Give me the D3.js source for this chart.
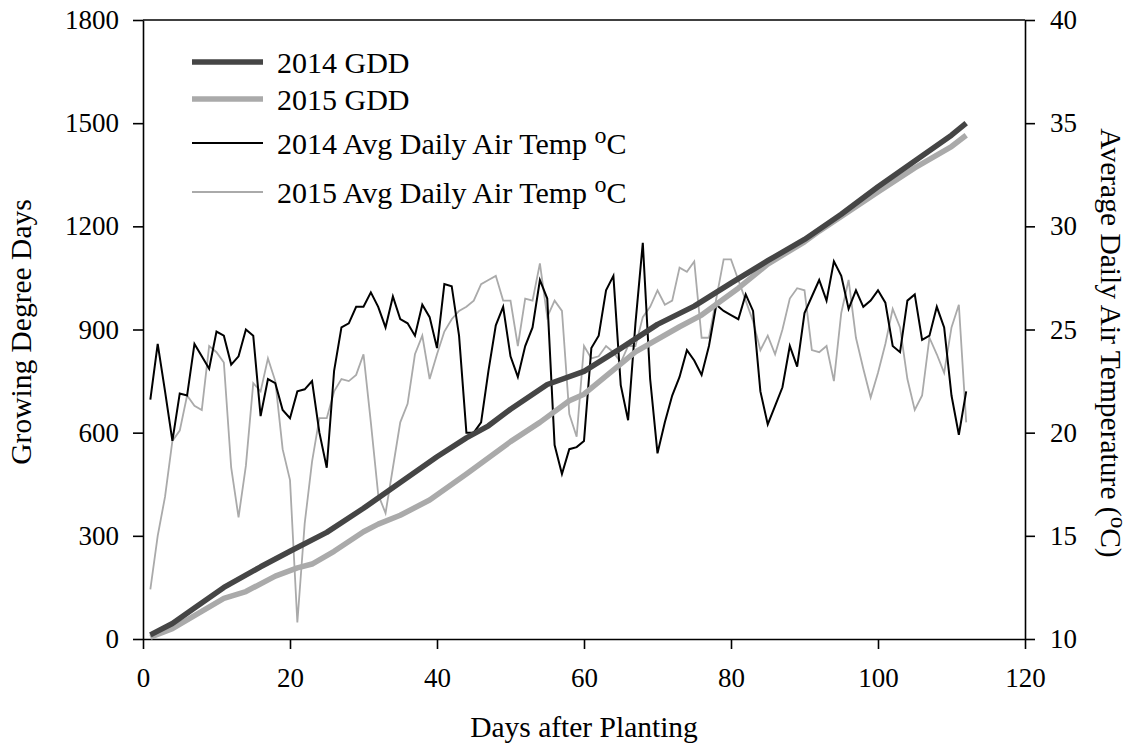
<!DOCTYPE html>
<html>
<head>
<meta charset="utf-8">
<script src="https://cdn.jsdelivr.net/npm/d3@7"></script>
<style>
  body { margin: 0; background: #fff; }
  svg text { font-family: "Liberation Serif", "Times New Roman", serif; fill: #000; }
</style>
</head>
<body>
<div id="vis"></div>
<script>
// days after planting, 1..112
var days = d3.range(1, 113);

// average daily air temperature (deg C)
var temp2014 = [
  21.6, 24.3, 22.0, 19.6, 21.9, 21.8, 24.3, 23.7, 23.1, 24.9,
  24.7, 23.3, 23.7, 25.0, 24.7, 20.8, 22.6, 22.4, 21.1, 20.7,
  22.0, 22.1, 22.5, 20.0, 18.3, 23.0, 25.1, 25.3, 26.1, 26.1,
  26.8, 26.1, 25.1, 26.6, 25.5, 25.3, 24.7, 26.2, 25.6, 24.1,
  27.2, 27.1, 24.7, 20.0, 20.0, 20.5, 23.0, 25.2, 26.1, 23.7,
  22.7, 24.2, 25.1, 27.4, 26.5, 19.4, 18.0, 19.2, 19.3, 19.6,
  24.1, 24.7, 26.9, 27.6, 22.3, 20.6, 25.3, 29.2, 22.6, 19.0,
  20.5, 21.8, 22.7, 24.0, 23.5, 22.8, 24.2, 26.2, 25.9, 25.7,
  25.5, 26.7, 25.9, 22.0, 20.4, 21.3, 22.2, 24.2, 23.2, 25.8,
  26.6, 27.4, 26.4, 28.3, 27.6, 26.0, 26.9, 26.1, 26.4, 26.9,
  26.3, 24.2, 23.9, 26.4, 26.7, 24.5, 24.7, 26.1, 25.1, 21.8,
  19.9, 22.0
];

var temp2015 = [
  12.4, 15.0, 16.9, 19.6, 20.1, 21.8, 21.3, 21.1, 24.2, 23.9,
  23.4, 18.3, 15.9, 18.4, 22.4, 22.0, 23.6, 22.5, 19.2, 17.7,
  10.8, 15.6, 18.6, 20.7, 20.7, 22.0, 22.6, 22.5, 22.8, 23.8,
  20.5, 17.0, 16.1, 18.3, 20.5, 21.4, 23.8, 24.7, 22.6, 23.8,
  24.9, 25.5, 25.9, 26.1, 26.4, 27.2, 27.4, 27.6, 26.4, 26.4,
  24.2, 26.5, 26.4, 28.2, 25.6, 26.4, 25.9, 20.9, 19.8, 24.2,
  23.6, 23.7, 24.2, 23.9, 23.4, 24.2, 24.2, 25.6, 26.1, 26.9,
  26.2, 26.4, 28.0, 27.8, 28.3, 24.6, 24.6, 26.5, 28.4, 28.4,
  27.4, 26.4, 25.4, 24.0, 24.7, 23.8, 25.0, 26.5, 27.0, 26.9,
  24.0, 23.9, 24.2, 22.5, 25.8, 27.4, 24.6, 23.1, 21.7, 22.9,
  24.3, 26.0, 25.1, 22.6, 21.1, 21.8, 24.6, 23.8, 22.9, 25.1,
  26.2, 20.5
];

// cumulative growing degree days, read at these days
var gddDays2014 = [1, 4, 7, 11, 16, 20, 25, 30, 35, 40, 44, 47, 50, 55, 60, 65, 70, 75, 80, 85, 90, 95, 100, 105, 110, 112];
var gdd2014 = [12, 45, 90, 150, 210, 255, 310, 380, 455, 530, 585, 620, 668, 740, 778, 845, 915, 968, 1035, 1100, 1162, 1235, 1315, 1390, 1465, 1500];

var gddDays2015 = [1, 4, 7, 11, 14, 18, 21, 23, 26, 30, 32, 35, 39, 44, 50, 54, 58, 60, 67, 73, 76, 81, 85, 90, 92, 100, 105, 110, 112];
var gdd2015 = [5, 30, 68, 118, 138, 183, 207, 218, 255, 312, 334, 360, 404, 480, 574, 630, 693, 712, 835, 908, 942, 1020, 1090, 1155, 1186, 1300, 1370, 1432, 1465];

var xTicks = [0, 20, 40, 60, 80, 100, 120];
var gddTicks = [0, 300, 600, 900, 1200, 1500, 1800];
var tempTicks = [10, 15, 20, 25, 30, 35, 40];

var legendItems = [
  {label: '2014 GDD', color: '#454545', width: 5.5, sup: false},
  {label: '2015 GDD', color: '#aaaaaa', width: 5.5, sup: false},
  {label: '2014 Avg Daily Air Temp ', color: '#000000', width: 2, sup: true},
  {label: '2015 Avg Daily Air Temp ', color: '#aaaaaa', width: 1.8, sup: true},
];

var svgWidth = 1142;
var svgHeight = 755;
var plotLeft = 143, plotRight = 1025, plotTop = 20, plotBottom = 639;

var svg = d3
  .select('#vis')
  .append('svg')
  .attr('width', svgWidth)
  .attr('height', svgHeight);

var x = d3.scaleLinear().domain([0, 120]).range([plotLeft, plotRight]);
var yGdd = d3.scaleLinear().domain([0, 1800]).range([plotBottom, plotTop]);
var yTemp = d3.scaleLinear().domain([10, 40]).range([plotBottom, plotTop]);

// axes
function styleAxis(g) {
  g.selectAll('path').attr('stroke', '#000').attr('stroke-width', 1.6).attr('fill', 'none');
  g.selectAll('line').attr('stroke', '#000').attr('stroke-width', 1.6);
  g.selectAll('text').style('font-size', '27px').attr('fill', '#000');
}

svg
  .append('g')
  .attr('transform', `translate(0, ${plotBottom})`)
  .call(d3.axisBottom(x).tickValues(xTicks).tickFormat(d3.format('d')).tickSize(10).tickSizeOuter(0).tickPadding(19))
  .call(styleAxis);

svg
  .append('g')
  .attr('transform', `translate(${plotLeft}, 0)`)
  .call(d3.axisLeft(yGdd).tickValues(gddTicks).tickFormat(d3.format('d')).tickSize(10).tickSizeOuter(0).tickPadding(14))
  .call(styleAxis);

svg
  .append('g')
  .attr('transform', `translate(${plotRight}, 0)`)
  .call(d3.axisRight(yTemp).tickValues(tempTicks).tickFormat(d3.format('d')).tickSize(10).tickSizeOuter(0).tickPadding(15))
  .call(styleAxis);

// top frame line
svg
  .append('line')
  .attr('x1', plotLeft)
  .attr('x2', plotRight)
  .attr('y1', plotTop)
  .attr('y2', plotTop)
  .attr('stroke', '#000')
  .attr('stroke-width', 1.6);

// series
var gddLine = d3.line().x(d => x(d[0])).y(d => yGdd(d[1]));
var tempLine = d3.line().x(d => x(d[0])).y(d => yTemp(d[1]));

svg
  .append('path')
  .datum(d3.zip(days, temp2015))
  .attr('d', tempLine)
  .attr('fill', 'none')
  .attr('stroke', '#aaaaaa')
  .attr('stroke-width', 1.8);

svg
  .append('path')
  .datum(d3.zip(days, temp2014))
  .attr('d', tempLine)
  .attr('fill', 'none')
  .attr('stroke', '#000')
  .attr('stroke-width', 2);

svg
  .append('path')
  .datum(d3.zip(gddDays2015, gdd2015))
  .attr('d', gddLine)
  .attr('fill', 'none')
  .attr('stroke', '#aaaaaa')
  .attr('stroke-width', 5.5)
  .attr('stroke-linejoin', 'round');

svg
  .append('path')
  .datum(d3.zip(gddDays2014, gdd2014))
  .attr('d', gddLine)
  .attr('fill', 'none')
  .attr('stroke', '#454545')
  .attr('stroke-width', 5.5)
  .attr('stroke-linejoin', 'round');

// legend
var legendY = [62, 99, 143, 192];
var legend = svg
  .selectAll('.legend')
  .data(legendItems)
  .enter()
  .append('g')
  .attr('class', 'legend')
  .attr('transform', (d, i) => `translate(192, ${legendY[i]})`);

legend
  .append('line')
  .attr('x1', 0)
  .attr('x2', 71)
  .attr('stroke', d => d.color)
  .attr('stroke-width', d => d.width);

var legendText = legend
  .append('text')
  .attr('x', 85)
  .attr('y', 11)
  .style('font-size', '30px')
  .text(d => d.label);

legendText
  .filter(d => d.sup)
  .append('tspan')
  .attr('dy', -11)
  .style('font-size', '24px')
  .text('o');

legendText
  .filter(d => d.sup)
  .append('tspan')
  .attr('dy', 11)
  .text('C');

// axis titles
svg
  .append('text')
  .attr('x', (plotLeft + plotRight) / 2)
  .attr('y', 737)
  .attr('text-anchor', 'middle')
  .style('font-size', '29.5px')
  .text('Days after Planting');

svg
  .append('text')
  .attr('transform', `translate(31, 332) rotate(-90)`)
  .attr('text-anchor', 'middle')
  .style('font-size', '29.5px')
  .text('Growing Degree Days');

var rightTitle = svg
  .append('text')
  .attr('transform', `translate(1101, 343) rotate(90)`)
  .attr('text-anchor', 'middle')
  .style('font-size', '29.5px');
rightTitle.append('tspan').text('Average Daily Air Temperature (');
rightTitle.append('tspan').attr('dy', -10).style('font-size', '23px').text('o');
rightTitle.append('tspan').attr('dy', 10).text('C)');
</script>
</body>
</html>
